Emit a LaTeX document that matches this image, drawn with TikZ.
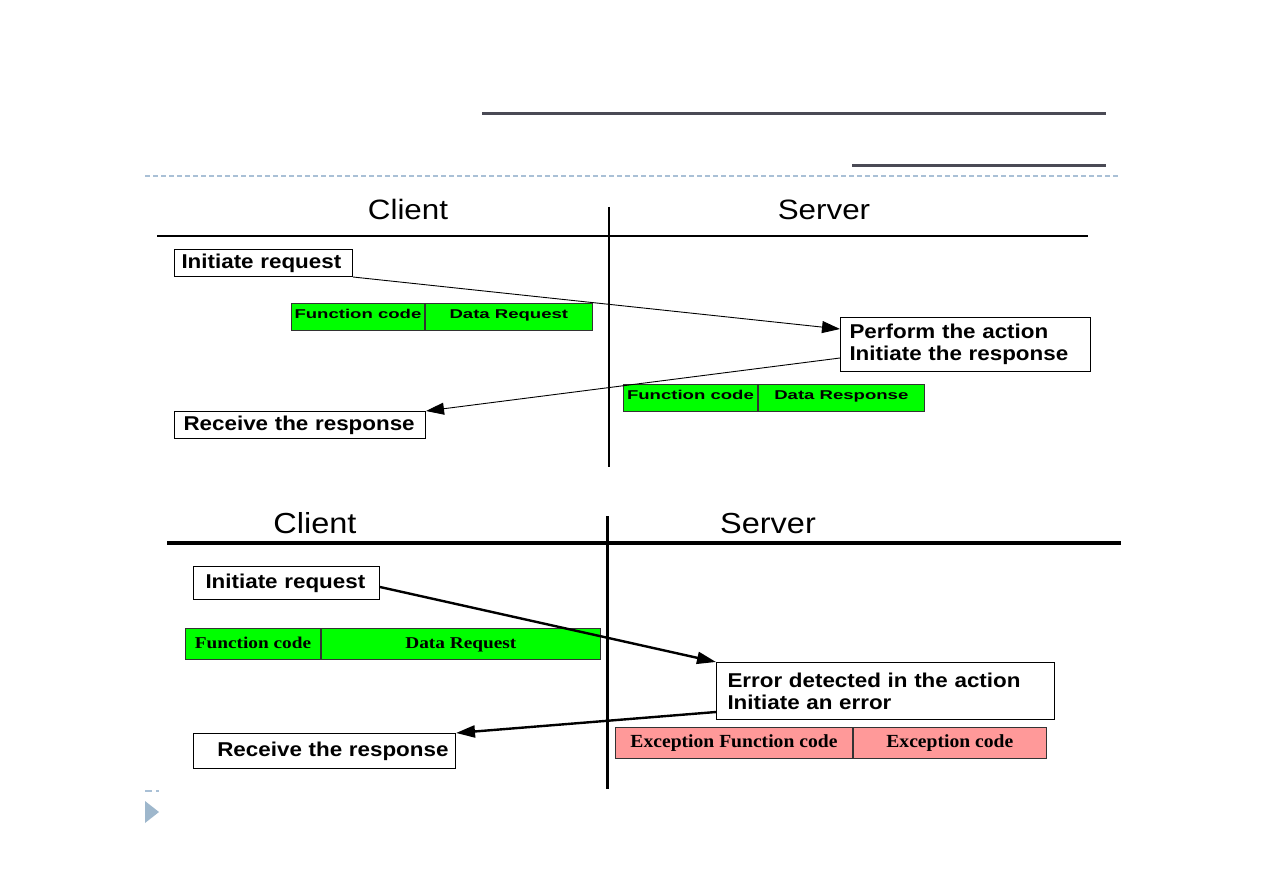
\documentclass[tikz,border=0pt]{standalone}
\usepackage{fontspec}
\setmainfont{Liberation Sans}
\newfontfamily\headfont[FakeStretch=1.12]{Liberation Sans}
\newfontfamily\labelfont[FakeStretch=1.12]{Liberation Sans}
\newfontfamily\fieldfont[FakeStretch=1.45]{Liberation Sans}
\newfontfamily\serfieldfont[FakeStretch=1.17]{Liberation Serif}
\newfontfamily\exfieldfont[FakeStretch=1.06]{Liberation Serif}
\usetikzlibrary{positioning,arrows.meta,calc}
\definecolor{rulegray}{HTML}{4A4A55}
\definecolor{dashblue}{HTML}{A9C0D6}
\definecolor{slidetri}{HTML}{9EB7CC}
\definecolor{pdugreen}{HTML}{00FF00}
\definecolor{pdured}{HTML}{FF9999}
\tikzset{
  side/.style={font=\headfont\fontsize{28}{30}\selectfont, anchor=base, inner sep=0pt},
  stepbox/.style 2 args={rectangle, draw=black, line width=1pt, fill=white,
    anchor=north west, align=left, inner ysep=0pt, inner xsep=#1,
    text width=#2, font=\labelfont\bfseries\fontsize{20}{22}\selectfont},
  field/.style 2 args={rectangle, draw=black!80, line width=0.9pt, fill=#1,
    anchor=north west, inner sep=0pt, minimum width=#2,
    text height=0.72em, text depth=0.42em},
  serfield/.style 2 args={field={#1}{#2}, minimum height=31pt,
    text height=0.95em, text depth=0.05em},
  msg/.style={line width=0.9pt, -{Triangle[length=18pt,width=12pt]}},
  msgB/.style={line width=2.4pt, -{Triangle[length=19pt,width=12pt]}}
}

\begin{document}
\begin{tikzpicture}[x=1pt,y=-1pt]
\useasboundingbox (0,0) rectangle (1263,893);

% =========================
% SLIDE HEADER
% =========================
\draw[rulegray, line width=3pt] (482,114) -- (1106,114);
\draw[rulegray, line width=3pt] (852,166) -- (1106,166);
\draw[dashblue, line width=1.3pt, dash pattern=on 5pt off 3pt] (145,176) -- (1118,176);

% =========================
% NORMAL EXCHANGE
% =========================
\node[side] (cliA) at (408,220) {Client};
\node[side] (srvA) at (824,220) {Server};
\draw[line width=1.4pt] (157,236) -- (1088,236);
\draw[line width=1.4pt] (609,207) -- (609,467);

\node[stepbox={7pt}{164pt}, minimum height=27pt] (req1) at (174,249) {Initiate request};
\node[stepbox={9pt}{232pt}, minimum height=54pt] (act1) at (840,317)
  {Perform the action\\Initiate the response};
\node[stepbox={9pt}{233pt}, minimum height=27pt] (rsp1) at (174,411) {Receive the response};

% request / response frames
\node[field={pdugreen}{133pt}, minimum height=27pt,
      font=\fieldfont\bfseries\fontsize{12.8}{14}\selectfont] (fcA) at (291,303) {Function code};
\node[field={pdugreen}{167pt}, minimum height=27pt,
      font=\fieldfont\bfseries\fontsize{12.8}{14}\selectfont] (drA) at (fcA.north east) {Data Request};
\node[field={pdugreen}{134pt}, minimum height=27pt,
      font=\fieldfont\bfseries\fontsize{12.8}{14}\selectfont] (fcR) at (623,384) {Function code};
\node[field={pdugreen}{166pt}, minimum height=27pt,
      font=\fieldfont\bfseries\fontsize{12.8}{14}\selectfont] (dsR) at (fcR.north east) {Data Response};

\draw[msg] (req1.south east) -- ($(act1.north west)+(0,12)$);
\draw[msg] ($(act1.south west)+(0,-14)$) -- (rsp1.north east);

% =========================
% EXCEPTION EXCHANGE
% =========================
\node[side, font=\headfont\fontsize{29}{31}\selectfont] (cliB) at (315,533) {Client};
\node[side, font=\headfont\fontsize{29}{31}\selectfont] (srvB) at (768,533) {Server};
\draw[line width=3.5pt] (167,543) -- (1121,543);
\draw[line width=3pt] (607,516) -- (607,789);

\node[stepbox={12pt}{162pt}, minimum height=33pt] (req2) at (193,566) {Initiate request};
\node[stepbox={11pt}{316pt}, minimum height=57pt] (err2) at (716,662)
  {Error detected in the action\\Initiate an error};
\node[stepbox={7pt}{248pt}, minimum height=35pt, align=right] (rsp2) at (193,733) {Receive the response};

\node[serfield={pdugreen}{135pt},
      font=\serfieldfont\bfseries\fontsize{16.5}{18}\selectfont] (fcB) at (185,628) {Function code};
\node[serfield={pdugreen}{279pt},
      font=\serfieldfont\bfseries\fontsize{16.5}{18}\selectfont] (drB) at (fcB.north east) {Data Request};
\node[serfield={pdured}{237pt},
      font=\exfieldfont\bfseries\fontsize{18.5}{20}\selectfont] (efE) at (615,727) {Exception Function code};
\node[serfield={pdured}{193pt},
      font=\exfieldfont\bfseries\fontsize{18.5}{20}\selectfont] (ecE) at (efE.north east) {Exception code};

\draw[msgB] ($(req2.east)+(0,4)$) -- (err2.north west);
\draw[msgB] ($(err2.south west)+(0,-8)$) -- (rsp2.north east);

% slide marker
\draw[dashblue, line width=1.5pt] (145,791) -- (152,791);
\draw[dashblue, line width=1.5pt] (156,791) -- (159,791);
\fill[slidetri] (145,801) -- (145,823) -- (159,812) -- cycle;

\end{tikzpicture}
\end{document}
